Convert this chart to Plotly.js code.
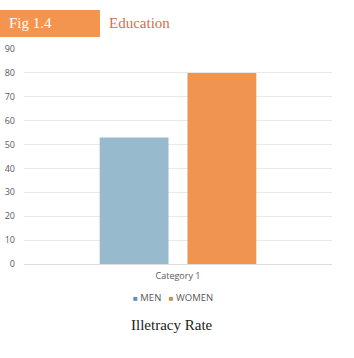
<!DOCTYPE html>
<html>
<head>
<meta charset="utf-8">
<script src="https://cdn.plot.ly/plotly-3.0.1.min.js"></script>
<style>html,body{margin:0;padding:0;background:#fff;}#chart{width:354px;height:358px;}</style>
</head>
<body>
<div id="chart"></div>
<script>
// Data
const categories = ["Category 1"];
const seriesNames = ["MEN", "WOMEN"];
const menValues = [53];
const womenValues = [80];
const yTicks = [0, 10, 20, 30, 40, 50, 60, 70, 80, 90];

const barColors = ["#97BBCD", "#F0954F"];
const legendColors = ["#5B8FC8", "#C69050"];

const W = 354, H = 358;
const M = {l: 24, r: 22, t: 49, b: 94};
const pw = W - M.l - M.r, ph = H - M.t - M.b;
const px = x => (x - M.l) / pw;
const py = y => (H - M.b - y) / ph;

const traces = [
  {type: "bar", name: seriesNames[0], x: categories, y: menValues,
   marker: {color: barColors[0]}, showlegend: false, hoverinfo: "none"},
  {type: "bar", name: seriesNames[1], x: categories, y: womenValues,
   marker: {color: barColors[1]}, showlegend: false, hoverinfo: "none"}
];

const legendText = seriesNames.map((n, i) =>
  '<span style="color:' + legendColors[i] + ';font-size:8px">\u25A0</span>\u00A0' + n
).join('\u00A0\u00A0\u00A0');

const layout = {
  width: W, height: H,
  margin: M,
  paper_bgcolor: "#ffffff",
  plot_bgcolor: "#ffffff",
  barmode: "group",
  bargap: 0.43,
  bargroupgap: 0.216,
  showlegend: false,
  font: {family: "Open Sans, Liberation Sans, sans-serif", size: 9, color: "#595959"},
  xaxis: {
    showgrid: false, zeroline: false, showline: false, ticks: "",
    ticklabelstandoff: 5,
    tickfont: {family: "Open Sans, sans-serif", size: 9, color: "#595959"},
    fixedrange: true
  },
  yaxis: {
    range: [0, 90], tickvals: yTicks, ticktext: yTicks.map(String),
    showgrid: true, gridcolor: "#E9E9E9", gridwidth: 1,
    zeroline: true, zerolinecolor: "#DCDCDC", zerolinewidth: 1,
    showline: false, ticks: "", ticklabelstandoff: 8,
    tickfont: {family: "Open Sans, sans-serif", size: 9, color: "#595959"},
    fixedrange: true
  },
  shapes: [
    {type: "rect", xref: "paper", yref: "paper",
     x0: px(0), x1: px(100), y0: py(37), y1: py(10),
     fillcolor: "#F4954F", line: {width: 0}, layer: "above"}
  ],
  annotations: [
    {xref: "paper", yref: "paper", x: px(7), y: py(23.5), xanchor: "left", yanchor: "middle",
     text: "Fig 1.4", showarrow: false,
     font: {family: "Liberation Serif, serif", size: 15, color: "#ffffff"}},
    {xref: "paper", yref: "paper", x: px(107), y: py(22.5), xanchor: "left", yanchor: "middle",
     text: "Education", showarrow: false,
     font: {family: "Liberation Serif, serif", size: 15, color: "#D4704D"}},
    {xref: "paper", yref: "paper", x: px(172.5), y: py(297), xanchor: "center", yanchor: "middle",
     text: legendText, showarrow: false,
     font: {family: "Open Sans, sans-serif", size: 9.5, color: "#595959"}},
    {xref: "paper", yref: "paper", x: px(172), y: py(325), xanchor: "center", yanchor: "middle",
     text: "Illetracy Rate", showarrow: false,
     font: {family: "Liberation Serif, serif", size: 15, color: "#222222"}}
  ]
};

Plotly.newPlot("chart", traces, layout, {displayModeBar: false, staticPlot: true});
</script>
</body>
</html>
